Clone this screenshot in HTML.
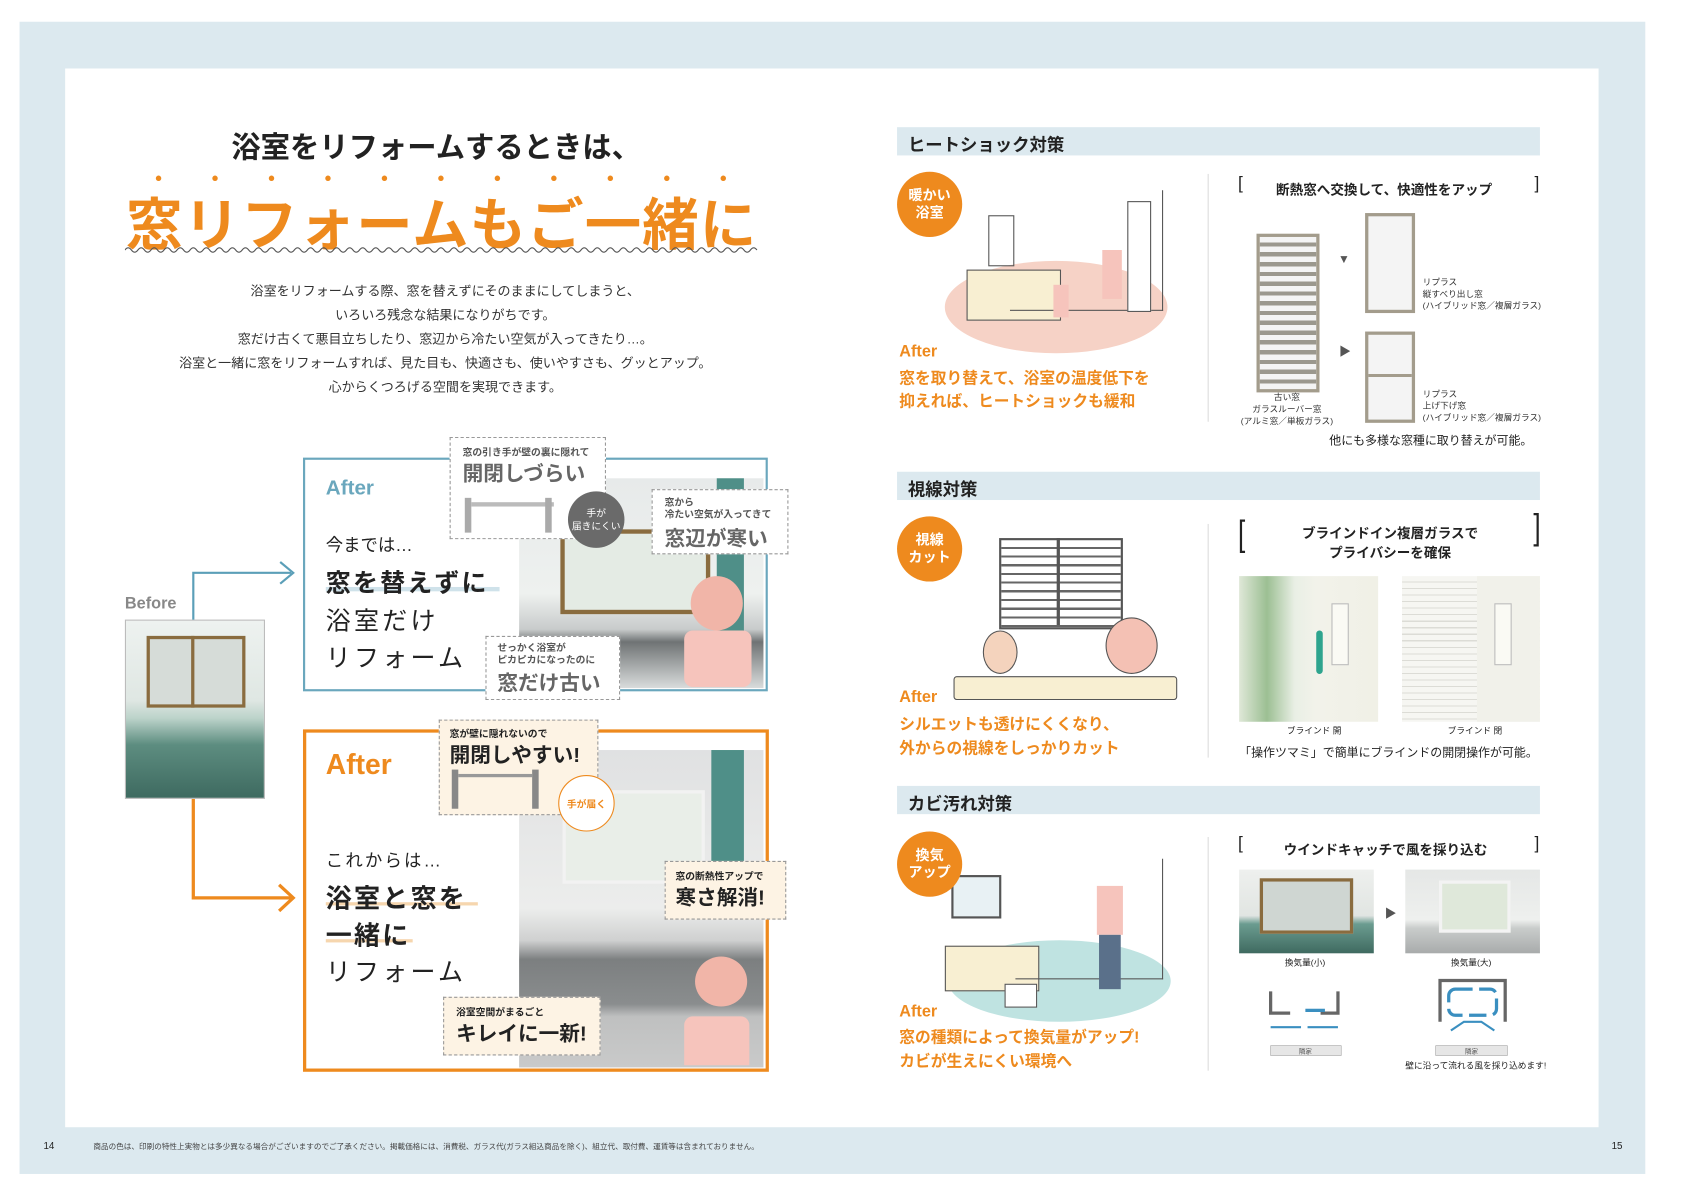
<!DOCTYPE html>
<html><head><meta charset="utf-8"><style>
html,body{margin:0;padding:0;background:#fff;}
body{width:1703px;height:1200px;overflow:hidden;position:relative;font-family:"Liberation Sans","Noto Sans CJK JP",sans-serif;}
#w{position:absolute;left:0;top:0;width:1560px;height:1099px;transform-origin:0 0;transform:scale(1.086,1.087);}
.a{position:absolute;}
.t{position:absolute;white-space:nowrap;color:#222;}
.b{font-weight:bold;}
.or{color:#ee8a1e;}
.bar{position:absolute;left:826px;width:592px;height:26px;background:#dce9ef;}
.bar span{position:absolute;left:10px;top:3px;font-size:16px;font-weight:bold;color:#222;}
.circ{position:absolute;width:60px;height:60px;border-radius:50%;background:#ee8a1e;color:#fff;font-size:13px;font-weight:bold;text-align:center;line-height:16px;display:flex;align-items:center;justify-content:center;}
.dash{position:absolute;border:1.5px dashed #999;background:#fff;}
.dasho{position:absolute;border:1.5px dashed #999;background:#fdf3e4;}
.sm{font-size:9px;}
</style></head><body>
<div id="w">
<div class="a" style="left:18px;top:20px;width:1497px;height:1060px;background:#dce9ef;"></div>
<div class="a" style="left:60px;top:63px;width:1412px;height:974px;background:#fff;"></div>
<div class="t" style="left:40px;top:1049px;font-size:9px;">14</div>
<div class="t" style="left:1484px;top:1049px;font-size:9px;">15</div>
<div class="t" style="left:86px;top:1050px;font-size:7px;color:#444;">商品の色は、印刷の特性上実物とは多少異なる場合がございますのでご了承ください。掲載価格には、消費税、ガラス代(ガラス組込商品を除く)、組立代、取付費、運賃等は含まれておりません。</div>

<div class="t b" style="left:213px;top:114px;font-size:27px;">浴室をリフォームするときは、</div>
<div class="t b or" style="left:116px;top:165px;font-size:52px;letter-spacing:1px;">窓リフォームもご一緒に</div>
<svg class="a" style="left:0;top:150px" width="720" height="20">
<g fill="#ee8a1e"><circle cx="146" cy="14" r="2.5"/><circle cx="198" cy="14" r="2.5"/><circle cx="250" cy="14" r="2.5"/><circle cx="302" cy="14" r="2.5"/><circle cx="354" cy="14" r="2.5"/><circle cx="406" cy="14" r="2.5"/><circle cx="458" cy="14" r="2.5"/><circle cx="510" cy="14" r="2.5"/><circle cx="562" cy="14" r="2.5"/><circle cx="614" cy="14" r="2.5"/><circle cx="666" cy="14" r="2.5"/></g></svg>
<svg class="a" style="left:115px;top:226px" width="590" height="8"><path d="M0 4 q3 -4 6 0 t6 0 t6 0 t6 0 t6 0 t6 0 t6 0 t6 0 t6 0 t6 0 t6 0 t6 0 t6 0 t6 0 t6 0 t6 0 t6 0 t6 0 t6 0 t6 0 t6 0 t6 0 t6 0 t6 0 t6 0 t6 0 t6 0 t6 0 t6 0 t6 0 t6 0 t6 0 t6 0 t6 0 t6 0 t6 0 t6 0 t6 0 t6 0 t6 0 t6 0 t6 0 t6 0 t6 0 t6 0 t6 0 t6 0 t6 0 t6 0 t6 0 t6 0 t6 0 t6 0 t6 0 t6 0 t6 0 t6 0 t6 0 t6 0 t6 0 t6 0 t6 0 t6 0 t6 0 t6 0 t6 0 t6 0 t6 0 t6 0 t6 0 t6 0 t6 0 t6 0 t6 0 t6 0 t6 0 t6 0 t6 0 t6 0 t6 0 t6 0 t6 0 t6 0 t6 0 t6 0 t6 0 t6 0 t6 0 t6 0 t6 0 t6 0 t6 0 t6 0 t6 0 t6 0 t6 0 t6 0" fill="none" stroke="#555" stroke-width="1"/></svg>
<div class="a" style="left:110px;top:257px;width:600px;text-align:center;font-size:12px;line-height:22px;color:#333;">浴室をリフォームする際、窓を替えずにそのままにしてしまうと、<br>いろいろ残念な結果になりがちです。<br>窓だけ古くて悪目立ちしたり、窓辺から冷たい空気が入ってきたり…。<br>浴室と一緒に窓をリフォームすれば、見た目も、快適さも、使いやすさも、グッとアップ。<br>心からくつろげる空間を実現できます。</div>

<div class="t b" style="left:115px;top:547px;font-size:15px;color:#888;">Before</div>
<div class="a" style="left:115px;top:570px;width:127px;height:163px;background:linear-gradient(#eef2f0 0%,#dfe7e3 45%,#bcd3ca 55%,#5d8d80 70%,#3e6a60 100%);border:1px solid #bbb;"></div>
<div class="a" style="left:135px;top:585px;width:85px;height:60px;border:3px solid #8a6c3f;background:#d6dcd8;"></div>
<div class="a" style="left:176px;top:585px;width:3px;height:66px;background:#8a6c3f;"></div>
<svg class="a" style="left:170px;top:515px" width="110" height="330">
<path d="M8 55 V12 H98" fill="none" stroke="#5b9fb8" stroke-width="2"/>
<path d="M88 2 L100 12 L88 22" fill="none" stroke="#5b9fb8" stroke-width="2"/>
<path d="M8 220 V311 H98" fill="none" stroke="#ee8a1e" stroke-width="3"/>
<path d="M87 299 L100 311 L87 323" fill="none" stroke="#ee8a1e" stroke-width="3"/>
</svg>

<div class="a" style="left:279px;top:421px;width:424px;height:211px;border:2px solid #6aa7bd;"></div>
<div class="a" style="left:478px;top:440px;width:225px;height:193px;background:linear-gradient(#e7eaea 0%,#eef1ef 55%,#c8cbcb 72%,#6f7374 78%,#d9dcdc 100%);"></div>
<div class="a" style="left:516px;top:487px;width:130px;height:70px;border:4px solid #8a6c3f;background:#e4ebe4;"></div>
<div class="a" style="left:660px;top:440px;width:25px;height:190px;background:#4f8f88;"></div>
<div class="t b" style="left:300px;top:439px;font-size:19px;color:#6aa7bd;">After</div>
<div class="t" style="left:300px;top:488px;font-size:16px;">今までは…</div>
<div class="a" style="left:300px;top:540px;width:160px;height:4px;background:#cfe2ea;"></div>
<div class="t b" style="left:300px;top:517px;font-size:23px;letter-spacing:2px;">窓を替えずに</div>
<div class="t" style="left:300px;top:552px;font-size:23px;letter-spacing:3px;">浴室だけ</div>
<div class="t" style="left:300px;top:586px;font-size:23px;letter-spacing:3px;">リフォーム</div>
<div class="dash" style="left:414px;top:402px;width:142px;height:92px;"></div>
<div class="t b sm" style="left:426px;top:409px;color:#555;">窓の引き手が壁の裏に隠れて</div>
<div class="t b" style="left:426px;top:421px;font-size:19px;color:#666;">開閉しづらい</div>
<div class="a" style="left:428px;top:458px;width:6px;height:32px;background:#aaa;"></div>
<div class="a" style="left:434px;top:462px;width:76px;height:4px;background:#bbb;"></div>
<div class="a" style="left:502px;top:458px;width:6px;height:32px;background:#aaa;"></div>
<div class="a" style="left:523px;top:452px;width:52px;height:52px;border-radius:50%;background:#6a6a6a;color:#fff;font-size:9px;text-align:center;display:flex;align-items:center;justify-content:center;line-height:12px;">手が<br>届きにくい</div>
<div class="dash" style="left:600px;top:450px;width:124px;height:58px;"></div>
<div class="t b sm" style="left:612px;top:457px;color:#555;line-height:11px;">窓から<br>冷たい空気が入ってきて</div>
<div class="t b" style="left:612px;top:481px;font-size:19px;color:#666;">窓辺が寒い</div>
<div class="dash" style="left:447px;top:585px;width:122px;height:57px;"></div>
<div class="t b sm" style="left:458px;top:591px;color:#555;line-height:11px;">せっかく浴室が<br>ピカピカになったのに</div>
<div class="t b" style="left:458px;top:614px;font-size:19px;color:#666;">窓だけ古い</div>
<div class="a" style="left:636px;top:530px;width:48px;height:50px;border-radius:50%;background:#f1b5a8;"></div>
<div class="a" style="left:630px;top:580px;width:62px;height:52px;border-radius:8px;background:#f6c4bc;"></div>

<div class="a" style="left:279px;top:671px;width:423px;height:309px;border:3px solid #ee8a1e;"></div>
<div class="a" style="left:478px;top:690px;width:225px;height:292px;background:linear-gradient(#e0e1e2 0%,#ecedec 50%,#cfd0d0 60%,#7c7f80 66%,#8a8d8e 80%,#bfc0c0 84%,#c9caca 100%);"></div>
<div class="a" style="left:518px;top:727px;width:125px;height:80px;border:3px solid #f2f2f2;background:#e9eee8;"></div>
<div class="a" style="left:655px;top:690px;width:30px;height:130px;background:#4f8f88;"></div>
<div class="t b or" style="left:300px;top:688px;font-size:26px;">After</div>
<div class="t" style="left:300px;top:778px;font-size:16px;letter-spacing:2px;">これからは…</div>
<div class="a" style="left:300px;top:830px;width:140px;height:3px;background:#f6d6ae;"></div>
<div class="a" style="left:300px;top:864px;width:80px;height:3px;background:#f6d6ae;"></div>
<div class="t b" style="left:300px;top:807px;font-size:24px;letter-spacing:2px;">浴室と窓を</div>
<div class="t b" style="left:300px;top:841px;font-size:24px;letter-spacing:2px;">一緒に</div>
<div class="t" style="left:300px;top:875px;font-size:23px;letter-spacing:3px;">リフォーム</div>
<div class="dasho" style="left:404px;top:662px;width:145px;height:86px;"></div>
<div class="t b sm" style="left:414px;top:668px;">窓が壁に隠れないので</div>
<div class="t b" style="left:414px;top:680px;font-size:19px;">開閉しやすい!</div>
<div class="a" style="left:416px;top:708px;width:6px;height:36px;background:#888;"></div>
<div class="a" style="left:422px;top:712px;width:68px;height:3px;background:#999;"></div>
<div class="a" style="left:490px;top:708px;width:6px;height:36px;background:#888;"></div>
<div class="a" style="left:514px;top:713px;width:50px;height:50px;border-radius:50%;background:#fff;border:1.5px solid #ee8a1e;color:#ee8a1e;font-size:9px;display:flex;align-items:center;justify-content:center;font-weight:bold;">手が届く</div>
<div class="dasho" style="left:612px;top:792px;width:110px;height:52px;"></div>
<div class="t b sm" style="left:622px;top:799px;">窓の断熱性アップで</div>
<div class="t b" style="left:622px;top:811px;font-size:19px;">寒さ解消!</div>
<div class="dasho" style="left:408px;top:917px;width:143px;height:52px;"></div>
<div class="t b sm" style="left:420px;top:924px;">浴室空間がまるごと</div>
<div class="t b" style="left:420px;top:936px;font-size:19px;">キレイに一新!</div>
<div class="a" style="left:640px;top:880px;width:48px;height:46px;border-radius:50%;background:#f1b5a8;"></div>
<div class="a" style="left:630px;top:935px;width:60px;height:45px;border-radius:8px 8px 0 0;background:#f6c4bc;"></div>

<div class="a" style="left:1112px;top:160px;width:1px;height:228px;background:#ddd;"></div>
<div class="a" style="left:1112px;top:482px;width:1px;height:215px;background:#ddd;"></div>
<div class="a" style="left:1112px;top:770px;width:1px;height:215px;background:#ddd;"></div>

<div class="bar" style="top:117px;"><span>ヒートショック対策</span></div>
<div class="a" style="left:870px;top:240px;width:205px;height:85px;border-radius:50%;background:#f6d2c6;"></div>
<div class="a" style="left:890px;top:248px;width:85px;height:45px;background:#f8efd2;border:1.5px solid #555;"></div>
<div class="a" style="left:930px;top:175px;width:140px;height:110px;border:1.5px solid #555;border-top:none;border-left:none;"></div>
<div class="a" style="left:910px;top:198px;width:22px;height:45px;border:1.5px solid #555;"></div>
<div class="a" style="left:1038px;top:185px;width:20px;height:100px;border:1.5px solid #555;background:#fff;"></div>
<div class="a" style="left:1015px;top:230px;width:18px;height:45px;background:#f6c4bc;"></div>
<div class="a" style="left:970px;top:262px;width:14px;height:30px;background:#f6c4bc;"></div>
<div class="circ" style="left:826px;top:158px;">暖かい<br>浴室</div>
<div class="t b or" style="left:828px;top:315px;font-size:15px;">After</div>
<div class="t b or" style="left:828px;top:339px;font-size:14.5px;line-height:21px;">窓を取り替えて、浴室の温度低下を<br>抑えれば、ヒートショックも緩和</div>
<div class="t" style="left:1140px;top:161px;font-size:16px;">[</div>
<div class="t" style="left:1413px;top:161px;font-size:16px;">]</div>
<div class="t b" style="left:1175px;top:164px;font-size:12.5px;">断熱窓へ交換して、快適性をアップ</div>
<div class="a" style="left:1157px;top:215px;width:52px;height:140px;border:3px solid #a39c8c;background:repeating-linear-gradient(#f4f4f4 0 5px,#9b988e 5px 9px);"></div>
<div class="a" style="left:1257px;top:196px;width:40px;height:86px;border:3px solid #a39c8c;background:#f4f4f4;"></div>
<div class="a" style="left:1257px;top:305px;width:40px;height:78px;border:3px solid #a39c8c;background:linear-gradient(#f4f4f4 46%,#a39c8c 46%,#a39c8c 50%,#f4f4f4 50%);"></div>
<div class="t" style="left:1232px;top:233px;font-size:11px;color:#555;">▼</div>
<div class="t" style="left:1233px;top:315px;font-size:11px;color:#555;">▶</div>
<div class="t" style="left:1140px;top:360px;width:90px;text-align:center;font-size:8px;line-height:11px;color:#333;">古い窓<br>ガラスルーバー窓<br>(アルミ窓／単板ガラス)</div>
<div class="t" style="left:1310px;top:254px;font-size:8px;line-height:11px;color:#333;">リプラス<br>縦すべり出し窓<br>(ハイブリッド窓／複層ガラス)</div>
<div class="t" style="left:1310px;top:357px;font-size:8px;line-height:11px;color:#333;">リプラス<br>上げ下げ窓<br>(ハイブリッド窓／複層ガラス)</div>
<div class="t" style="left:1224px;top:397px;font-size:11px;">他にも多様な窓種に取り替えが可能。</div>

<div class="bar" style="top:434px;"><span>視線対策</span></div>
<div class="a" style="left:920px;top:495px;width:110px;height:80px;border:2px solid #555;background:repeating-linear-gradient(#fff 0 6px,#666 6px 8px);"></div>
<div class="a" style="left:973px;top:495px;width:3px;height:80px;background:#555;"></div>
<div class="a" style="left:905px;top:580px;width:30px;height:38px;border-radius:50%;background:#f4d3bd;border:1.5px solid #555;"></div>
<div class="a" style="left:1018px;top:568px;width:46px;height:50px;border-radius:50%;background:#f4c1b4;border:1.5px solid #555;"></div>
<div class="a" style="left:878px;top:622px;width:204px;height:20px;background:#f8efd2;border:1.5px solid #555;border-radius:3px;"></div>
<div class="circ" style="left:826px;top:475px;">視線<br>カット</div>
<div class="t b or" style="left:828px;top:633px;font-size:15px;">After</div>
<div class="t b or" style="left:828px;top:656px;font-size:14.5px;line-height:22px;">シルエットも透けにくくなり、<br>外からの視線をしっかりカット</div>
<div class="t" style="left:1140px;top:478px;font-size:24px;transform:scaleY(1.4);">[</div>
<div class="t" style="left:1412px;top:472px;font-size:24px;transform:scaleY(1.4);">]</div>
<div class="t b" style="left:1150px;top:482px;width:260px;text-align:center;font-size:12.5px;line-height:18px;">ブラインドイン複層ガラスで<br>プライバシーを確保</div>
<div class="a" style="left:1141px;top:530px;width:128px;height:134px;background:linear-gradient(90deg,#dfe8d8 0,#9cbf93 20%,#e9efe5 40%,#f2f2ea 55%,#f0f0e6 100%);"></div>
<div class="a" style="left:1226px;top:555px;width:14px;height:55px;border:1.5px solid #bbb;background:#fafaf4;"></div>
<div class="a" style="left:1212px;top:580px;width:6px;height:40px;background:#2ea48e;border-radius:3px;"></div>
<div class="a" style="left:1291px;top:530px;width:127px;height:134px;background:repeating-linear-gradient(#f6f6f2 0 5px,#dcdcd6 5px 6px);"></div>
<div class="a" style="left:1360px;top:530px;width:58px;height:134px;background:#f1f1ea;"></div>
<div class="a" style="left:1376px;top:555px;width:14px;height:55px;border:1.5px solid #bbb;background:#fafaf4;"></div>
<div class="t" style="left:1185px;top:667px;font-size:8px;">ブラインド 開</div>
<div class="t" style="left:1333px;top:667px;font-size:8px;">ブラインド 閉</div>
<div class="t" style="left:1141px;top:684px;font-size:11px;">「操作ツマミ」で簡単にブラインドの開閉操作が可能。</div>

<div class="bar" style="top:723px;"><span>カビ汚れ対策</span></div>
<div class="a" style="left:873px;top:865px;width:205px;height:75px;border-radius:50%;background:#bfe3e1;"></div>
<div class="a" style="left:870px;top:870px;width:85px;height:40px;background:#f8efd2;border:1.5px solid #555;"></div>
<div class="a" style="left:935px;top:790px;width:135px;height:110px;border:1.5px solid #555;border-top:none;border-left:none;"></div>
<div class="a" style="left:876px;top:805px;width:42px;height:36px;border:2px solid #555;background:#e8f1f4;"></div>
<div class="a" style="left:1010px;top:815px;width:24px;height:45px;background:#f6c4bc;"></div>
<div class="a" style="left:1012px;top:860px;width:20px;height:50px;background:#5a708a;"></div>
<div class="a" style="left:925px;top:905px;width:28px;height:20px;border:1.5px solid #555;background:#fff;"></div>
<div class="circ" style="left:826px;top:765px;">換気<br>アップ</div>
<div class="t b or" style="left:828px;top:922px;font-size:15px;">After</div>
<div class="t b or" style="left:828px;top:944px;font-size:14.5px;line-height:22px;">窓の種類によって換気量がアップ!<br>カビが生えにくい環境へ</div>
<div class="t" style="left:1140px;top:768px;font-size:16px;">[</div>
<div class="t" style="left:1413px;top:768px;font-size:16px;">]</div>
<div class="t b" style="left:1182px;top:771px;font-size:12.5px;">ウインドキャッチで風を採り込む</div>
<div class="a" style="left:1141px;top:800px;width:124px;height:77px;background:linear-gradient(#eef0ee 0,#e1e5e2 55%,#6b9c90 65%,#3f6a60 100%);"></div>
<div class="a" style="left:1160px;top:808px;width:80px;height:45px;border:3px solid #8a6c3f;background:#cfd6d2;"></div>
<div class="a" style="left:1294px;top:800px;width:124px;height:77px;background:linear-gradient(#e5e7e6 0,#eef0ee 60%,#c9cccb 70%,#a8abab 100%);"></div>
<div class="a" style="left:1325px;top:810px;width:60px;height:42px;border:3px solid #f3f3f3;background:#dfe8da;"></div>
<div class="t" style="left:1275px;top:832px;font-size:11px;color:#555;">▶</div>
<div class="t" style="left:1183px;top:880px;font-size:8px;">換気量(小)</div>
<div class="t" style="left:1336px;top:880px;font-size:8px;">換気量(大)</div>
<svg class="a" style="left:1160px;top:900px" width="260" height="75">
<path d="M10 12 V32 H28 M72 12 V32 H56" fill="none" stroke="#666" stroke-width="3"/>
<rect x="42" y="28" width="18" height="3" fill="#3a8fc0"/>
<path d="M10 45 H38 M44 45 H72" stroke="#3a8fc0" stroke-width="2"/>
<rect x="10" y="62" width="65" height="9" fill="#e6e6e6" stroke="#999" stroke-width="0.5"/>
<text x="42" y="69" font-size="6" text-anchor="middle" fill="#555" font-family="Liberation Sans, Noto Sans CJK JP, sans-serif">隣家</text>
<path d="M166 40 V2 H226 V40" fill="none" stroke="#666" stroke-width="3"/>
<rect x="174" y="10" width="44" height="24" rx="6" fill="none" stroke="#3a8fc0" stroke-width="3" stroke-dasharray="16 6"/>
<path d="M176 48 l12 -8 h16 l12 8" fill="none" stroke="#3a8fc0" stroke-width="2"/>
<rect x="162" y="62" width="66" height="9" fill="#e6e6e6" stroke="#999" stroke-width="0.5"/>
<text x="195" y="69" font-size="6" text-anchor="middle" fill="#555" font-family="Liberation Sans, Noto Sans CJK JP, sans-serif">隣家</text>
</svg>
<div class="t" style="left:1294px;top:975px;font-size:8px;">壁に沿って流れる風を採り込めます!</div>
</div>
</body></html>
